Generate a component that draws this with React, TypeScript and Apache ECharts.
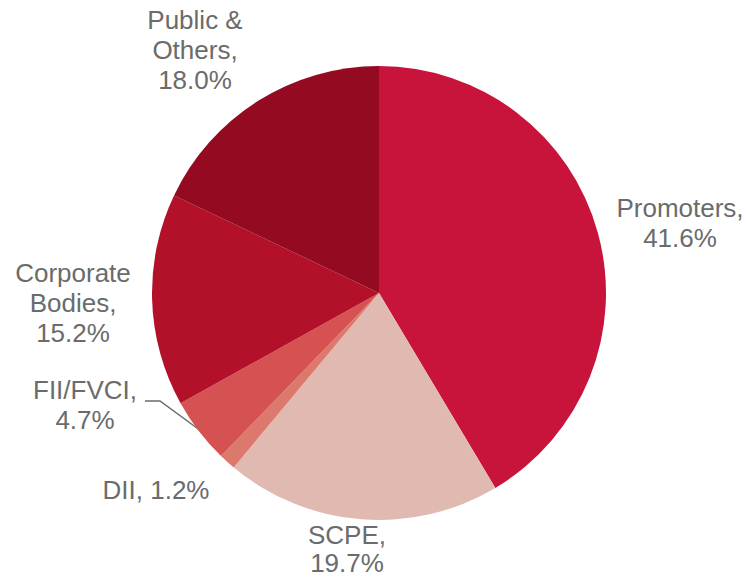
import React, { useEffect, useRef } from "react";
import * as echarts from "echarts";

const categories = ["Promoters", "SCPE", "DII", "FII/FVCI", "Corporate Bodies", "Public & Others"];
const values = [41.6, 19.7, 1.2, 4.7, 15.2, 18.0];
const labelTexts = [
  "Promoters,\n41.6%",
  "SCPE,\n19.7%",
  "DII, 1.2%",
  "FII/FVCI,\n4.7%",
  "Corporate\nBodies,\n15.2%",
  "Public &\nOthers,\n18.0%",
];
const colors = ["#C8133A", "#E0BAB0", "#DD786C", "#D65151", "#B31029", "#940A20"];

// label layout (centre x, top y) for each slice
const labelPos: [number, number][] = [
  [680, 193],
  [347, 521],
  [156, 475],
  [85, 375],
  [73, 258],
  [195, 5],
];

export default function App() {
  const ref = useRef<HTMLDivElement>(null);
  useEffect(() => {
    if (!ref.current) return;
    const chart = echarts.init(ref.current, undefined, { renderer: "svg" });
    chart.setOption({
      animation: false,
      backgroundColor: "#ffffff",
      series: [
        {
          type: "pie",
          center: [379, 293],
          radius: [0, 227],
          startAngle: 90,
          clockwise: true,
          avoidLabelOverlap: false,
          itemStyle: { borderWidth: 0 },
          label: {
            show: true,
            position: "outside",
            color: "#6b6b6b",
            fontFamily: "Liberation Sans, Arial, sans-serif",
            fontSize: 26,
            lineHeight: 30,
            align: "center",
            formatter: (p: any) => labelTexts[p.dataIndex],
          },
          labelLine: { show: false },
          labelLayout: (params: any) => {
            const i = params.dataIndex;
            const [x, y] = labelPos[i];
            const res: any = { x, y, align: "center", verticalAlign: "top" };
            if (i === 3) {
              res.labelLinePoints = [
                [145, 401],
                [160, 401],
                [201, 431],
              ];
            }
            return res;
          },
          emphasis: { disabled: true },
          data: categories.map((c, i) => ({
            name: c,
            value: values[i],
            itemStyle: { color: colors[i] },
            label: i === 1 ? { lineHeight: 28 } : undefined,
            labelLine:
              i === 3
                ? { show: true, length: 10, length2: 10, lineStyle: { color: "#6b6b6b", width: 1.5 } }
                : { show: false },
          })),
        },
      ],
    });
    return () => chart.dispose();
  }, []);
  return (
    <div
      ref={ref}
      style={{ position: "fixed", left: 0, top: 0, width: 746, height: 580 }}
    />
  );
}
